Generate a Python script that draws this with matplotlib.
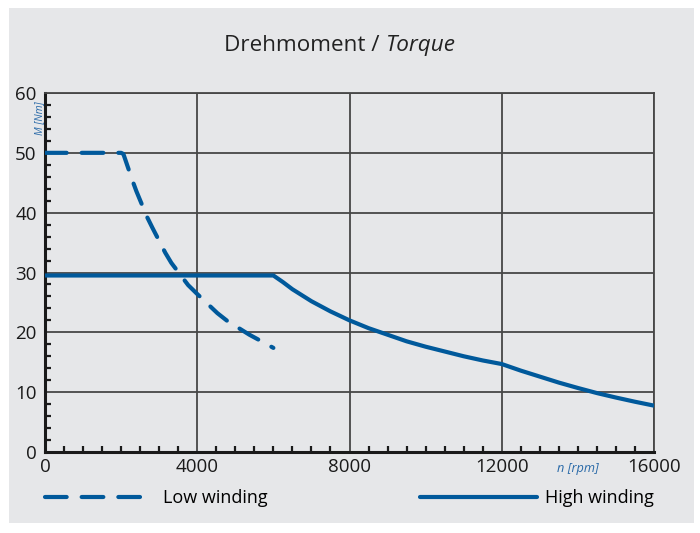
import numpy as np
import matplotlib.pyplot as plt
from matplotlib.patches import Rectangle
from matplotlib.ticker import MultipleLocator

# torque curves
n_low = [0, 2000, 2060, 2290, 2400, 2680, 2820, 3160, 3320, 3760, 4000, 4530, 4790, 5370, 5660, 6000]
m_low = [50, 50, 49.8, 45.5, 43.6, 39.3, 37.5, 33.3, 31.6, 27.9, 26.4, 23.2, 21.9, 19.6, 18.6, 17.4]

n_high = [0, 6000, 6250, 6500, 7000, 7500, 8000, 8500, 9000, 9500, 10000, 10500, 11000, 11500, 12000,
          12500, 13000, 13500, 14000, 14500, 15000, 15500, 16000]
m_high = [29.5, 29.5, 28.4, 27.2, 25.2, 23.5, 22.0, 20.7, 19.6, 18.5, 17.6, 16.8, 16.0, 15.3, 14.7,
          13.6, 12.6, 11.6, 10.7, 9.85, 9.1, 8.4, 7.75]

x_ticks = [0, 4000, 8000, 12000, 16000]
y_ticks = [0, 10, 20, 30, 40, 50, 60]

blue = '#00599b'
grey = '#e6e7e9'

plt.rcParams['font.family'] = ['Open Sans', 'DejaVu Sans']

fig = plt.figure(figsize=(7, 5.33), dpi=100, facecolor='white')
fig.patches.append(Rectangle((9/700, 10/533), 685/700, 515/533, transform=fig.transFigure,
                             facecolor=grey, edgecolor='none', zorder=-10))

ax = fig.add_axes([45/700, 81/533, 609/700, 359/533])
ax.set_facecolor(grey)

low, = ax.plot(n_low, m_low, color=blue, lw=3, dashes=(5.2, 3.6),
               dash_capstyle='round', dash_joinstyle='round', label='Low winding', zorder=3)
high, = ax.plot(n_high, m_high, color=blue, lw=3, solid_capstyle='round',
                solid_joinstyle='round', label='High winding', zorder=3)

ax.set_xlim(0, 16000)
ax.set_ylim(0, 60)
ax.set_xticks(x_ticks)
ax.set_yticks(y_ticks)
ax.xaxis.set_minor_locator(MultipleLocator(500))
ax.yaxis.set_minor_locator(MultipleLocator(2))
ax.tick_params(which='major', length=0, labelsize=13.5, colors='#1a1a1a')
ax.tick_params(axis='y', which='major', pad=6)
ax.tick_params(axis='x', which='major', pad=4)
ax.tick_params(which='minor', direction='in', length=4, width=1.6, color='#1a1a1a')
ax.tick_params(axis='x', which='minor', top=False)
ax.grid(True, which='major', color='#474747', lw=1.3)
ax.set_axisbelow(True)

for s in ['top', 'right']:
    ax.spines[s].set_color('#474747')
    ax.spines[s].set_linewidth(1.3)
for s in ['left', 'bottom']:
    ax.spines[s].set_color('#1a1a1a')
    ax.spines[s].set_linewidth(2.2)

# axis labels sit inside the tick area like on the datasheet
ax.text(-0.009, 0.978, 'M [Nm]', transform=ax.transAxes, rotation=90, ha='center', va='top',
        color='#2a6aa8', fontsize=7.5, style='italic')
ax.text(0.875, -0.045, 'n [rpm]', transform=ax.transAxes, ha='center', va='center',
        color='#2a6aa8', fontsize=9.2, style='italic')

fig.text(0.551, 0.915, 'Drehmoment / ', ha='right', va='center', fontsize=16.2, color='#222222')
fig.text(0.551, 0.915, 'Torque', ha='left', va='center', fontsize=16.2, style='italic', color='#222222')

leg1 = ax.legend(handles=[low], loc='center left', bbox_to_anchor=(0.0, -0.128),
                 frameon=False, fontsize=13, handlelength=6.1, handletextpad=0.45,
                 borderaxespad=0, borderpad=0)
ax.add_artist(leg1)
ax.legend(handles=[high], loc='center right', bbox_to_anchor=(1.0, -0.128),
          frameon=False, fontsize=13, handlelength=6.5, handletextpad=0.45,
          borderaxespad=0, borderpad=0)

fig.savefig('out.png', dpi=100, facecolor='white')
